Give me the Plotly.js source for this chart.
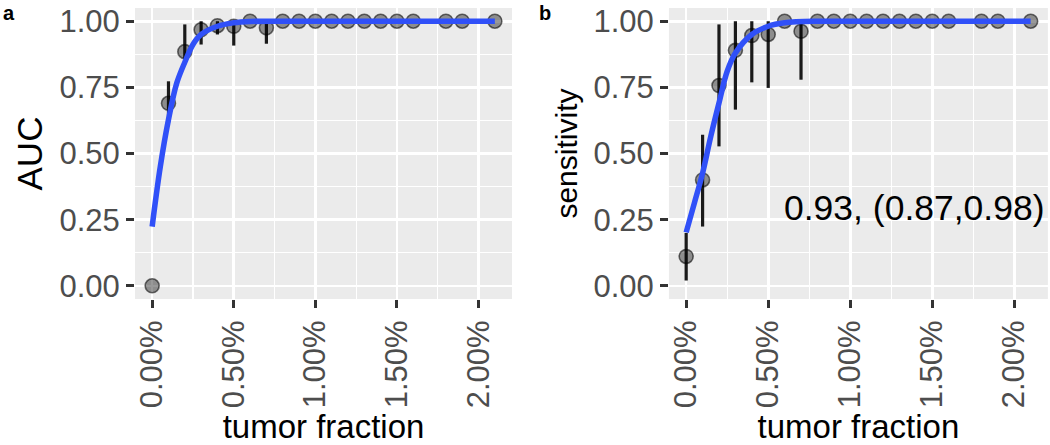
<!DOCTYPE html>
<html>
<head>
<meta charset="utf-8">
<script src="https://cdn.plot.ly/plotly-3.0.1.min.js"></script>
<style>
  html, body { margin: 0; padding: 0; background: #fff; }
  #chart { width: 1050px; height: 445px; }
</style>
</head>
<body>
<div id="chart"></div>
<script>
// tumor fraction (in %)
var fraction = [0, 0.1, 0.2, 0.3, 0.4, 0.5, 0.6, 0.7, 0.8, 0.9, 1.0, 1.1, 1.2, 1.3, 1.4, 1.5, 1.6, 1.8, 1.9, 2.1];

// panel a: AUC with interval
var auc     = [0, 0.690, 0.885, 0.968, 0.983, 0.981, 1, 0.975, 1, 1, 1, 1, 1, 1, 1, 1, 1, 1, 1, 1];
var aucLow  = [0, 0.616, 0.857, 0.912, 0.950, 0.908, 1, 0.915, 1, 1, 1, 1, 1, 1, 1, 1, 1, 1, 1, 1];
var aucHigh = [0, 0.773, 0.988, 1, 1, 1, 1, 1, 1, 1, 1, 1, 1, 1, 1, 1, 1, 1, 1, 1];

// panel b: sensitivity with interval
var sens     = [0.111, 0.400, 0.757, 0.890, 0.946, 0.950, 1, 0.962, 1, 1, 1, 1, 1, 1, 1, 1, 1, 1, 1, 1];
var sensLow  = [0.020, 0.224, 0.527, 0.666, 0.769, 0.748, 1, 0.779, 1, 1, 1, 1, 1, 1, 1, 1, 1, 1, 1, 1];
var sensHigh = [0.200, 0.571, 0.988, 1, 1, 1, 1, 1, 1, 1, 1, 1, 1, 1, 1, 1, 1, 1, 1, 1];

// fitted curves
var curveX    = [0, 0.05, 0.1, 0.15, 0.2, 0.25, 0.3, 0.4, 0.5, 0.6, 0.8, 1.0, 1.5, 2.1];
var curveAuc  = [0.224, 0.451, 0.628, 0.765, 0.845, 0.912, 0.950, 0.981, 0.994, 0.999, 1, 1, 1, 1];
var curveSens = [0.202, 0.313, 0.426, 0.565, 0.691, 0.811, 0.880, 0.950, 0.981, 0.994, 1, 1, 1, 1];

var sensLabel = "0.93, (0.87,0.98)";

function diff(a, b) {
  return a.map(function (v, i) { return Math.max(0, v - b[i]); });
}

function pointTrace(y, lo, hi, xa, ya) {
  return {
    x: fraction, y: y, xaxis: xa, yaxis: ya,
    type: "scatter", mode: "markers",
    marker: { size: 14, color: "rgba(0,0,0,0.4)", line: { color: "rgba(0,0,0,0.55)", width: 1.6 } },
    error_y: {
      type: "data", symmetric: false,
      array: diff(hi, y), arrayminus: diff(y, lo),
      width: 0, thickness: 3.2, color: "#1a1a1a"
    },
    hoverinfo: "x+y", showlegend: false
  };
}

function curveTrace(y, xa, ya) {
  return {
    x: curveX, y: y, xaxis: xa, yaxis: ya,
    type: "scatter", mode: "lines",
    line: { color: "#3050F8", width: 5.5, shape: "spline", smoothing: 1 },
    hoverinfo: "skip", showlegend: false
  };
}

var data = [
  pointTrace(auc, aucLow, aucHigh, "x", "y"),
  curveTrace(curveAuc, "x", "y"),
  pointTrace(sens, sensLow, sensHigh, "x2", "y2"),
  curveTrace(curveSens, "x2", "y2")
];

var tickFont = { family: "Liberation Sans, Arial, sans-serif", size: 31, color: "#4D4D4D" };

function xAxis(domain, anchor) {
  return {
    domain: domain, anchor: anchor,
    range: [-0.105, 2.205], tick0: 0, dtick: 0.5,
    tickformat: ".2f", ticksuffix: "%", tickangle: -90,
    ticks: "outside", ticklen: 8, tickwidth: 3, tickcolor: "#333",
    tickfont: tickFont,
    showgrid: true, gridcolor: "#fff", gridwidth: 2.6,
    minor: { dtick: 0.25, tick0: 0, showgrid: true, gridcolor: "#fff", gridwidth: 1.2, ticks: "" },
    zeroline: false, showline: false,
    title: { text: "tumor fraction", font: { family: "Liberation Sans, Arial, sans-serif", size: 33, color: "#000" }, standoff: 4 }
  };
}

function yAxis(anchor, title, size) {
  return {
    domain: [0.328, 0.982], anchor: anchor,
    range: [-0.05, 1.05], tick0: 0, dtick: 0.25, tickformat: ".2f",
    ticks: "outside", ticklen: 8, tickwidth: 3, tickcolor: "#333",
    tickfont: tickFont,
    showgrid: true, gridcolor: "#fff", gridwidth: 2.6,
    minor: { dtick: 0.125, tick0: 0, showgrid: true, gridcolor: "#fff", gridwidth: 1.2, ticks: "" },
    zeroline: false, showline: false,
    title: { text: title, font: { family: "Liberation Sans, Arial, sans-serif", size: size, color: "#000" }, standoff: 6 }
  };
}

var layout = {
  width: 1050, height: 445,
  margin: { l: 0, r: 0, t: 0, b: 0 },
  paper_bgcolor: "#fff", plot_bgcolor: "#EBEBEB",
  font: { family: "Liberation Sans, Arial, sans-serif" },
  xaxis: xAxis([0.1286, 0.4876], "y"),
  yaxis: yAxis("x", "AUC", 35),
  xaxis2: xAxis([0.6371, 0.998], "y2"),
  yaxis2: yAxis("x2", "sensitivity", 30),
  annotations: [
    { text: "<b>a</b>", xref: "paper", yref: "paper", x: 0.002, y: 0.998, xanchor: "left", yanchor: "top",
      showarrow: false, borderpad: 0, font: { size: 20, color: "#000" } },
    { text: "<b>b</b>", xref: "paper", yref: "paper", x: 0.512, y: 0.998, xanchor: "left", yanchor: "top",
      showarrow: false, borderpad: 0, font: { size: 20, color: "#000" } },
    { text: sensLabel, xref: "x2", yref: "y2", x: 1.394, y: 0.296, xanchor: "center", yanchor: "middle",
      showarrow: false, font: { size: 35.5, color: "#000" } }
  ]
};

Plotly.newPlot("chart", data, layout, { displayModeBar: false, staticPlot: true });
</script>
</body>
</html>
